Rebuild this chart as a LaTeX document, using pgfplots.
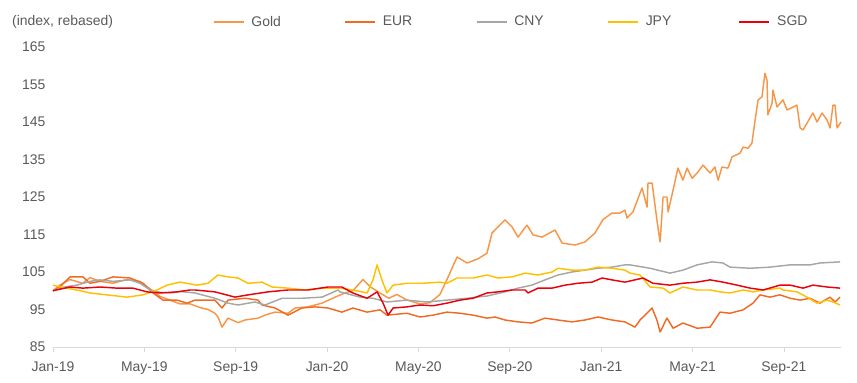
\documentclass[border=0pt]{standalone}
\usepackage{fontspec}
\setmainfont{Liberation Sans}
\usepackage{pgfplots}
\pgfplotsset{compat=1.18}
\definecolor{cGold}{HTML}{F79646}
\definecolor{cEUR}{HTML}{F06A24}
\definecolor{cCNY}{HTML}{A6A6A6}
\definecolor{cJPY}{HTML}{FFC000}
\definecolor{cSGD}{HTML}{E8000B}
\definecolor{textgray}{HTML}{595959}
\definecolor{axisgray}{HTML}{D9D9D9}
\begin{document}
\begin{tikzpicture}
\useasboundingbox (-53bp,-36bp) rectangle (804bp,347bp);
\begin{axis}[
  scale only axis, width=788bp, height=300bp,
  xmin=0, xmax=34.5, ymin=85, ymax=165,
  axis x line*=bottom, axis y line*=left,
  x axis line style={draw=axisgray, line width=0.8bp},
  y axis line style={draw=none},
  xtick={0,4,8,12,16,20,24,28,32},
  xticklabels={Jan-19,May-19,Sep-19,Jan-20,May-20,Sep-20,Jan-21,May-21,Sep-21},
  ytick={85,95,105,115,125,135,145,155,165},
  xtick style={draw=axisgray, line width=0.8bp},
  ytick style={draw=none},
  tick align=outside, major tick length=5bp,
  tick label style={font=\fontsize{14}{16}\selectfont, text=textgray},
  /pgf/number format/assume math mode=true,
  yticklabel style={xshift=1bp},
  xticklabel style={yshift=-6bp},
  legend style={draw=none, fill=none, at={(axis description cs:0.203,1.084)}, anchor=west,
    legend columns=5, font=\fontsize{14}{16}\selectfont, inner sep=0pt, outer sep=0pt,
    nodes={inner sep=0pt, text=textgray},
    /tikz/every even column/.append style={column sep=0bp},
    /tikz/every odd column/.append style={column sep=0bp}},
  legend image code/.code={\draw[#1] (0bp,0bp) -- (30bp,0bp); \path (37bp,0bp);},
  every axis plot/.append style={line width=1.45bp, line join=round},
  clip=false,
]
\addplot[cGold] coordinates {
(0,100)(0.3,101.5)(0.74,103)(1.3,102)(1.62,103.5)(2.06,102.5)(2.63,102)(3.24,103)(3.8,102.5)
(4.25,100.5)(4.68,98.5)(5.12,97.5)(5.56,96.5)(6.0,96.5)(6.44,95.5)(6.79,95)(7.09,94)(7.22,93)
(7.40,90.3)(7.66,92.7)(8.10,91.5)(8.41,92.2)(8.98,92.7)(9.28,93.5)(9.72,94.3)(10.29,94)
(10.60,95.4)(11.16,95.7)(11.78,96.7)(12.35,98.3)(12.78,99.4)(13.13,100)(13.57,103)(13.9,101)
(14.32,99.4)(14.7,98)(15.06,99)(15.5,97.5)(16.07,96.5)(16.5,96.8)(16.94,99)(17.25,103)
(17.69,109)(18.13,107.4)(18.6,108.5)(19.0,110)(19.22,115.4)(19.48,117)(19.79,118.9)(20.10,117)
(20.36,114.3)(20.75,117.5)(21.02,114.9)(21.41,114.3)(21.98,116.2)(22.29,112.7)(22.85,112.2)
(23.29,113)(23.73,115.4)(24.08,119)(24.47,120.7)(24.82,120.7)(25.04,121.5)(25.13,119.4)
(25.39,121)(25.70,126)(25.79,127.4)(26.01,122.3)(26.05,128.7)(26.23,128.7)(26.44,118.9)
(26.58,113)(26.71,125)(26.88,125)(26.93,121)(27.15,126.9)(27.36,132.7)(27.58,129.5)
(27.76,132.7)(27.98,130)(28.20,131.4)(28.46,133.5)(28.77,131.4)(28.98,133)(29.12,129.5)
(29.29,133)(29.55,132.7)(29.73,135.7)(30.08,136.7)(30.21,138.3)(30.43,138)(30.60,139.4)
(30.74,145.5)(30.87,150.9)(31.04,151.7)(31.17,158)(31.26,156.2)(31.30,146.9)(31.48,150)
(31.52,153.5)(31.70,149)(31.96,150.9)(32.14,148.2)(32.57,149.5)(32.71,143.4)(32.84,142.9)
(33.27,147.4)(33.45,145)(33.67,147.4)(33.89,145.5)(34.02,143.4)(34.15,149.5)(34.24,149.5)
(34.33,143.4)(34.50,145)
};
\addlegendentry{\makebox[93bp][l]{Gold}}
\addplot[cEUR] coordinates {
(0,100)(0.3,101)(0.74,103.7)(1.31,103.7)(1.62,102)(2.06,102.5)(2.63,103.7)(3.37,103.4)
(3.94,102)(4.38,99.4)(4.82,97.5)(5.43,97.5)(5.87,96.7)(6.22,97.5)(7.09,97.5)(7.40,95.4)
(7.66,97.5)(8.41,98)(8.98,97.5)(9.15,96.2)(9.72,95.4)(10.29,93.5)(10.90,95.4)(11.47,95.7)
(12.04,95.4)(12.65,94.3)(13.13,95.4)(13.75,94.3)(14.32,94.9)(14.62,93.5)(15.50,94)(16.07,93)
(16.64,93.5)(17.25,94.3)(17.82,94)(18.39,93.5)(19.00,92.7)(19.35,93)(19.79,92.2)(20.36,91.7)
(20.97,91.4)(21.54,92.7)(22.11,92.2)(22.72,91.7)(23.29,92.2)(23.86,93)(24.47,92.2)(25.04,91.7)
(25.48,90.3)(25.70,92.2)(26.23,95.4)(26.44,92.2)(26.58,89)(26.88,92.7)(27.15,90)(27.58,91.4)
(28.20,90)(28.77,90.3)(29.20,94.3)(29.64,94)(30.21,94.9)(30.65,96.7)(30.95,98.9)(31.39,98.3)
(31.83,98.9)(32.27,98)(32.71,97.5)(33.14,98)(33.58,96.7)(34.02,98.3)(34.24,97)(34.46,98.3)
};
\addlegendentry{\makebox[93bp][l]{EUR}}
\addplot[cCNY] coordinates {
(0,100)(0.5,101)(1.05,101.5)(1.62,102.5)(2.06,102.9)(2.63,102.5)(3.37,102.9)(3.81,102)
(4.25,100.2)(4.68,99.6)(5.12,99.4)(5.56,99.8)(6.22,99.4)(7.09,98)(7.66,96.7)(8.10,96.2)
(8.84,97)(9.28,96.2)(10.03,98)(10.90,98)(11.78,98.3)(12.48,100.2)(12.57,99.7)(13.44,98.3)
(14.01,98)(14.62,97)(15.50,97.5)(16.37,97)(17.25,97.5)(18.13,98)(19.00,98.6)(19.79,99.7)
(20.36,100.7)(20.97,101.5)(21.54,102.9)(22.11,104.2)(22.72,105)(23.29,105.5)(23.86,106)
(24.47,106.3)(25.04,106.9)(25.26,106.9)(26.14,106)(27.01,104.7)(27.58,105.5)(28.20,106.9)
(28.85,107.7)(29.33,107.4)(29.64,106.3)(30.52,106)(31.39,106.3)(32.27,106.9)(33.14,106.9)
(33.58,107.4)(34.46,107.7)
};
\addlegendentry{\makebox[93bp][l]{CNY}}
\addplot[cJPY] coordinates {
(0,101.5)(0.31,101)(1.05,100.2)(1.62,99.4)(2.36,98.9)(3.24,98.3)(3.94,98.9)(4.55,100.2)
(4.99,101.5)(5.56,102.3)(6.30,101.5)(6.79,102)(7.22,104.2)(7.66,103.7)(8.10,103.4)(8.54,102)
(9.15,102.3)(9.59,101)(10.29,100.7)(11.03,100.2)(11.78,100.7)(12.35,100.7)(12.57,100.7)
(13.13,100.2)(13.75,99.4)(14.01,102.9)(14.19,106.9)(14.40,102.9)(14.62,99.4)(14.89,101.5)
(15.50,102)(16.20,102)(16.94,102.3)(17.25,102)(17.69,103.4)(18.39,103.4)(19.00,104.2)
(19.48,103.4)(20.10,103.7)(20.67,104.7)(21.23,104.2)(21.85,105)(22.11,106)(22.72,105.5)
(23.29,105.5)(23.86,106.3)(24.47,106)(25.04,105.5)(25.26,104.7)(25.70,104.2)(26.14,101)
(26.71,100.7)(27.01,99.4)(27.58,101)(28.20,100.2)(28.77,100.2)(29.20,99.7)(29.64,99.4)
(30.21,100.2)(30.65,99.7)(31.09,100.2)(31.83,100.7)(31.96,100.2)(32.57,99.7)(33.01,98.3)
(33.45,96.7)(33.89,97.5)(34.15,97)(34.46,96.2)
};
\addlegendentry{\makebox[93bp][l]{JPY}}
\addplot[cSGD] coordinates {
(0,100)(0.74,101)(1.31,100.7)(2.06,101)(2.80,100.7)(3.50,100.7)(4.12,99.7)(4.68,99.4)
(5.43,99.7)(6.00,100.2)(6.22,100.2)(7.09,99.7)(7.97,98.3)(8.54,98.9)(9.41,99.7)(10.29,100.2)
(11.16,100.2)(12.04,101)(12.65,101)(13.13,99.4)(13.75,98)(14.19,99.7)(14.45,96.7)(14.67,93.5)
(14.89,95.4)(15.50,95.7)(16.07,96.2)(16.64,96)(17.25,96.7)(17.82,97.5)(18.39,98)(19.00,99.4)
(19.48,99.7)(20.10,100.2)(20.67,100.2)(20.80,99.4)(21.23,100.7)(21.85,100.7)(22.42,101.5)
(22.99,102)(23.60,102.3)(24.04,103.4)(24.47,102.9)(25.04,102.3)(25.48,102.9)(25.83,103.4)
(26.27,102)(27.01,101.5)(27.58,102)(28.20,102.3)(28.77,102.9)(29.33,102.3)(29.95,101.5)
(30.52,100.7)(31.09,100.2)(31.83,101.5)(32.27,101.5)(32.84,100.7)(33.27,101.5)(33.89,101)
(34.46,100.7)
};
\addlegendentry{\makebox[40bp][l]{SGD}}
\node[anchor=west, inner sep=0pt, text=textgray, font=\fontsize{14}{16}\selectfont]
  at (axis description cs:-0.052,1.084) {(index, rebased)};
\end{axis}
\end{tikzpicture}
\end{document}
